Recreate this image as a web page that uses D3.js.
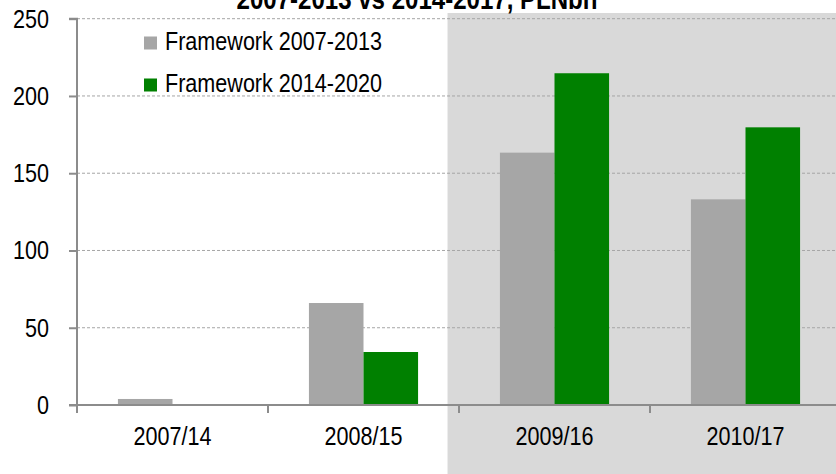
<!DOCTYPE html>
<html>
<head>
<meta charset="utf-8">
<script src="https://cdn.jsdelivr.net/npm/d3@7"></script>
<style>
  html, body { margin: 0; padding: 0; background: #fff; }
  svg { display: block; }
  text { font-family: "Liberation Sans", Arial, sans-serif; }
</style>
</head>
<body>
<svg id="chart" width="836" height="474"></svg>
<script>
// Commitments per year pair, PLN bn
const categories = ["2007/14", "2008/15", "2009/16", "2010/17"];
const seriesNames = ["Framework 2007-2013", "Framework 2014-2020"];
const framework0713 = [3.9, 66, 163.3, 133.1];
const framework1420 = [0, 34.3, 214.7, 179.7];
const yTicks = [0, 50, 100, 150, 200, 250];
const shadedFrom = "2009/16";
const titleText = "2007-2013 vs 2014-2017, PLNbn";

const colors = ["#a6a6a6", "#008000"];
const svg = d3.select("#chart");
const W = 836, H = 474;
const plotLeft = 77, plotBottom = 405, plotTop = 18.7;
const narrow = 0.83; // condensed lettering, as with a narrow sans face

const x0 = d3.scaleBand().domain(categories).range([plotLeft, plotLeft + 191 * categories.length]).padding(0);
const x1 = d3.scaleBand().domain(seriesNames).range([0, x0.bandwidth()]).paddingInner(0).paddingOuter(0.75);
const y = d3.scaleLinear().domain([0, 250]).range([plotBottom, plotTop]);

// shaded forecast region
svg.append("rect")
  .attr("x", x0(shadedFrom) - x0.step() * 0.06)
  .attr("y", 13)
  .attr("width", W)
  .attr("height", H)
  .attr("fill", "#d9d9d9");

// title (partly above the frame)
svg.append("text")
  .attr("transform", `translate(417,9) scale(${narrow},1)`)
  .attr("text-anchor", "middle")
  .attr("font-weight", "bold")
  .attr("font-size", 29)
  .attr("fill", "#000")
  .text(titleText);

// gridlines
svg.append("g")
  .selectAll("line")
  .data(yTicks.filter(d => d > 0))
  .join("line")
  .attr("x1", plotLeft).attr("x2", W)
  .attr("y1", d => y(d)).attr("y2", d => y(d))
  .attr("stroke", "#a6a6a6")
  .attr("stroke-width", 1)
  .attr("stroke-dasharray", "3,2");

// bars
const rows = categories.map((c, i) => ({ cat: c, vals: [framework0713[i], framework1420[i]] }));
const groups = svg.append("g").selectAll("g")
  .data(rows)
  .join("g")
  .attr("transform", d => `translate(${x0(d.cat)},0)`);
groups.selectAll("rect")
  .data(d => d.vals.map((v, k) => ({ name: seriesNames[k], v, k })))
  .join("rect")
  .attr("x", d => x1(d.name))
  .attr("width", x1.bandwidth())
  .attr("y", d => y(d.v))
  .attr("height", d => plotBottom - y(d.v))
  .attr("fill", d => colors[d.k]);

// y axis
const yAxis = d3.axisLeft(y).tickValues(yTicks).tickSize(8).tickPadding(7);
const gy = svg.append("g").attr("transform", `translate(${plotLeft},0)`).call(yAxis);
gy.select(".domain").attr("stroke", "#8c8c8c").attr("stroke-width", 2).attr("d", `M-8,${plotTop}H0V${plotBottom + 8}`);
gy.selectAll(".tick line").attr("stroke", "#8c8c8c").attr("stroke-width", 2);
gy.selectAll(".tick text")
  .attr("font-size", 26).attr("fill", "#000").attr("font-family", null)
  .attr("x", -28 / narrow)
  .attr("transform", `scale(${narrow},1)`);

// x axis
const xAxis = d3.axisBottom(x0).tickSize(0).tickPadding(22);
const gx = svg.append("g").attr("transform", `translate(0,${plotBottom})`).call(xAxis);
gx.select(".domain").attr("stroke", "#8c8c8c").attr("stroke-width", 2).attr("d", `M${plotLeft - 8},0H${W}`);
gx.selectAll(".tick text")
  .attr("font-size", 26).attr("fill", "#000").attr("font-family", null)
  .attr("transform", `scale(${narrow},1)`);
gx.append("g").selectAll("line")
  .data(categories)
  .join("line")
  .attr("x1", d => x0(d)).attr("x2", d => x0(d))
  .attr("y1", 0).attr("y2", 8)
  .attr("stroke", "#8c8c8c").attr("stroke-width", 2);

// legend
const legend = svg.append("g").selectAll("g")
  .data(seriesNames)
  .join("g")
  .attr("transform", (d, i) => `translate(144,${36.5 + i * 42})`);
legend.append("rect").attr("width", 13).attr("height", 13).attr("fill", (d, i) => colors[i]);
legend.append("text")
  .attr("transform", `translate(21,13) scale(${narrow},1)`)
  .attr("font-size", 26)
  .attr("fill", "#000")
  .text(d => d);
</script>
</body>
</html>
